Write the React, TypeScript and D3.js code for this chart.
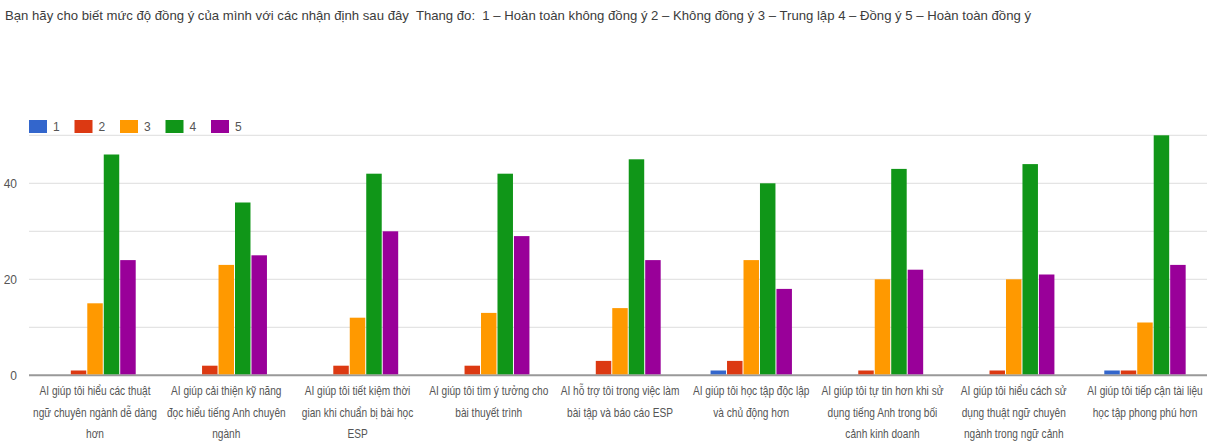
import React from "react";
import * as d3 from "d3";

const title =
  "Bạn hãy cho biết mức độ đồng ý của mình với các nhận định sau đây  Thang đo:  1 – Hoàn toàn không đồng ý 2 – Không đồng ý 3 – Trung lập 4 – Đồng ý 5 – Hoàn toàn đồng ý";

const categories = [
  "AI giúp tôi hiểu các thuật\nngữ chuyên ngành dễ dàng\nhơn",
  "AI giúp cải thiện kỹ năng\nđọc hiểu tiếng Anh chuyên\nngành",
  "AI giúp tôi tiết kiệm thời\ngian khi chuẩn bị bài học\nESP",
  "AI giúp tôi tìm ý tưởng cho\nbài thuyết trình",
  "AI hỗ trợ tôi trong việc làm\nbài tập và báo cáo ESP",
  "AI giúp tôi học tập độc lập\nvà chủ động hơn",
  "AI giúp tôi tự tin hơn khi sử\ndụng tiếng Anh trong bối\ncảnh kinh doanh",
  "AI giúp tôi hiểu cách sử\ndụng thuật ngữ chuyên\nngành trong ngữ cảnh",
  "AI giúp tôi tiếp cận tài liệu\nhọc tập phong phú hơn",
];

const seriesNames = ["1", "2", "3", "4", "5"];
const series1 = [0, 0, 0, 0, 0, 1, 0, 0, 1];
const series2 = [1, 2, 2, 2, 3, 3, 1, 1, 1];
const series3 = [15, 23, 12, 13, 14, 24, 20, 20, 11];
const series4 = [46, 36, 42, 42, 45, 40, 43, 44, 50];
const series5 = [24, 25, 30, 29, 24, 18, 22, 21, 23];
const seriesColors = ["#3366cc", "#dc3912", "#ff9900", "#109618", "#990099"];

const yTickLabels = [0, 20, 40];
const yGridValues = [0, 10, 20, 30, 40, 50];

export default function App() {
  const W = 1207;
  const H = 442;
  const allSeries = [series1, series2, series3, series4, series5];

  const x0 = d3
    .scaleBand<number>()
    .domain(d3.range(categories.length))
    .range([29.4, 1210.6])
    .paddingInner(0.38)
    .paddingOuter(0.19);
  const x1 = d3
    .scaleBand<string>()
    .domain(seriesNames)
    .range([0, x0.bandwidth()])
    .paddingInner(0.06)
    .paddingOuter(0);
  const y = d3.scaleLinear().domain([0, 50]).range([375.3, 135.3]);

  const font = "'Liberation Sans', Arial, sans-serif";

  return (
    <svg
      width={W}
      height={H}
      style={{ position: "absolute", left: 0, top: 0, background: "#fff" }}
      fontFamily={font}
    >
      <rect x={0} y={0} width={W} height={H} fill="#fff" />
      <text
        x={5}
        y={20}
        fontSize={13}
        fill="#3c3c3c"
        textLength={1026}
        lengthAdjust="spacingAndGlyphs"
        style={{ whiteSpace: "pre" }}
      >
        {title}
      </text>

      {/* legend */}
      {seriesNames.map((s, i) => (
        <g key={s} transform={`translate(${29 + i * 45.5},120)`}>
          <rect x={0} y={0} width={18} height={13} fill={seriesColors[i]} />
          <text x={24} y={11} fontSize={12} fill="#555">
            {s}
          </text>
        </g>
      ))}

      {/* gridlines */}
      {yGridValues.map((v) => (
        <line
          key={v}
          x1={29}
          x2={W}
          y1={y(v)}
          y2={y(v)}
          stroke={v === 0 ? "#999" : "#e4e4e4"}
          strokeWidth={v === 0 ? 2 : 1.3}
        />
      ))}

      {/* y tick labels */}
      {yTickLabels.map((v) => (
        <text
          key={v}
          x={17}
          y={y(v)}
          dy="0.35em"
          textAnchor="end"
          fontSize={12}
          fill="#555"
        >
          {v}
        </text>
      ))}

      {/* bars */}
      {categories.map((c, ci) => (
        <g key={ci} transform={`translate(${x0(ci)},0)`}>
          {allSeries.map((vals, si) => {
            const v = vals[ci];
            if (v <= 0) return null;
            return (
              <rect
                key={si}
                x={x1(seriesNames[si])}
                y={y(v)}
                width={x1.bandwidth()}
                height={y(0) - y(v) - 1}
                fill={seriesColors[si]}
              />
            );
          })}
        </g>
      ))}

      {/* category labels */}
      {categories.map((c, ci) => {
        const cx = (x0(ci) as number) + x0.bandwidth() / 2;
        return c.split("\n").map((line, li) => (
          <text
            key={`${ci}-${li}`}
            transform={`translate(${cx},${395 + li * 21.5}) scale(0.78,1)`}
            textAnchor="middle"
            fontSize={13}
            fill="#555"
          >
            {line}
          </text>
        ));
      })}
    </svg>
  );
}
